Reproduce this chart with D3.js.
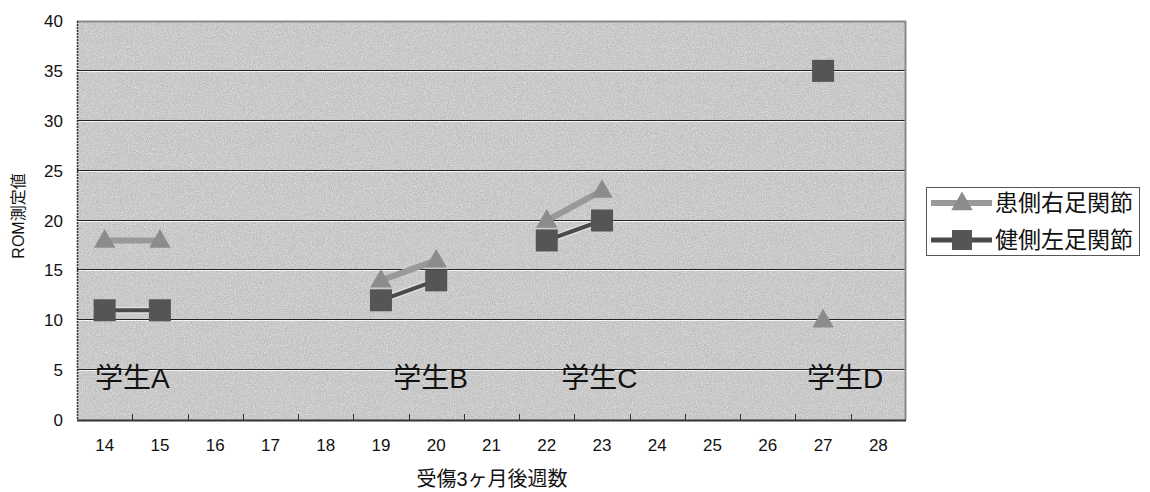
<!DOCTYPE html>
<html><head><meta charset="utf-8">
<script src="https://cdn.jsdelivr.net/npm/d3@7"></script>
<style>
html,body{margin:0;padding:0;background:#fff;}
text{font-family:"Liberation Sans","Noto Sans CJK JP",Arial,sans-serif;fill:#111;}
</style></head>
<body>
<svg id="chart" width="1150" height="492"></svg>
<script>
const categories = ["14","15","16","17","18","19","20","21","22","23","24","25","26","27","28"];
const seriesNames = ["患側右足関節","健側左足関節"];
const affectedRight = [18,18,null,null,null,14,16,null,20,23,null,null,null,10,null];
const healthyLeft   = [11,11,null,null,null,12,14,null,18,20,null,null,null,35,null];
const yTicks = [0,5,10,15,20,25,30,35,40];
const studentLabels = ["学生A","学生B","学生C","学生D"];
const studentLabelX = [14.5,19.9,22.95,27.4];
const studentLabelY = [3.2,3.2,3.2,3.2];
const yTitle = "ROM測定値";
const xTitle = "受傷3ヶ月後週数";

const svg = d3.select("#chart");
const L=77,R=906,T=21,B=420;
const x = d3.scaleBand().domain(categories).range([L,R]).padding(0);
const y = d3.scaleLinear().domain([0,40]).range([B,T]);
const bw = x.bandwidth();
const cx = c => x(c)+bw/2;
const fx = v => x(categories[0]) + (v - (+categories[0]))*bw + bw/2;

const defs = svg.append("defs");
const f = defs.append("filter").attr("id","noise").attr("x",0).attr("y",0).attr("width","100%").attr("height","100%");
f.append("feTurbulence").attr("type","fractalNoise").attr("baseFrequency",0.95).attr("numOctaves",2).attr("seed",3).attr("result","t");
f.append("feColorMatrix").attr("in","t").attr("type","matrix")
 .attr("values","0 0 0 0 1  0 0 0 0 1  0 0 0 0 1  -1.8 0 0 0 1.1");
const f2 = defs.append("filter").attr("id","noise2").attr("x",0).attr("y",0).attr("width","100%").attr("height","100%");
f2.append("feTurbulence").attr("type","fractalNoise").attr("baseFrequency",0.9).attr("numOctaves",2).attr("seed",11).attr("result","t");
f2.append("feColorMatrix").attr("in","t").attr("type","matrix")
 .attr("values","0 0 0 0 1  0 0 0 0 1  0 0 0 0 1  1.8 0 0 0 -0.7");

// plot background
svg.append("rect").attr("x",L).attr("y",T).attr("width",R-L).attr("height",B-T).attr("fill","#bdbdbd");
svg.append("rect").attr("x",L).attr("y",T).attr("width",R-L).attr("height",B-T).attr("fill","#000").attr("filter","url(#noise)").attr("opacity",0.4);
svg.append("rect").attr("x",L).attr("y",T).attr("width",R-L).attr("height",B-T).attr("fill","#fff").attr("filter","url(#noise2)").attr("opacity",0.5);

// gridlines (etched)
const grid = svg.append("g");
yTicks.filter(t=>t>0&&t<40).forEach(t=>{
  grid.append("line").attr("x1",L).attr("x2",R).attr("y1",Math.round(y(t))-0.5).attr("y2",Math.round(y(t))-0.5).attr("stroke","#222").attr("stroke-width",1);
  grid.append("line").attr("x1",L).attr("x2",R).attr("y1",Math.round(y(t))+0.5).attr("y2",Math.round(y(t))+0.5).attr("stroke","#f4f4f4").attr("stroke-width",1);
});
// border
svg.append("line").attr("x1",L).attr("x2",R).attr("y1",T+0.5).attr("y2",T+0.5).attr("stroke","#8a8a8a").attr("stroke-width",2);
svg.append("line").attr("x1",R-0.5).attr("x2",R-0.5).attr("y1",T).attr("y2",B).attr("stroke","#8a8a8a").attr("stroke-width",2);
svg.append("line").attr("x1",L+0.5).attr("x2",L+0.5).attr("y1",T).attr("y2",B).attr("stroke","#333").attr("stroke-width",1.5).attr("stroke-dasharray","2,1");
svg.append("line").attr("x1",L).attr("x2",R).attr("y1",B+0.5).attr("y2",B+0.5).attr("stroke","#333").attr("stroke-width",2);

// x axis ticks at band boundaries, pointing up
const tickG = svg.append("g");
categories.slice(1).forEach(c=>{
  tickG.append("line").attr("x1",Math.round(x(c))+0.5).attr("x2",Math.round(x(c))+0.5).attr("y1",B).attr("y2",B-6).attr("stroke","#333").attr("stroke-width",1);
});
svg.append("g").selectAll("text").data(categories).join("text")
  .attr("x",d=>cx(d)).attr("y",451).attr("text-anchor","middle").attr("font-size",17).text(d=>d);
svg.append("g").selectAll("text").data(yTicks).join("text")
  .attr("x",63).attr("y",d=>y(d)+6).attr("text-anchor","end").attr("font-size",17).text(d=>d);

// axis titles
svg.append("text").attr("transform","translate(24,216) rotate(-90)").attr("text-anchor","middle").attr("font-size",16).text(yTitle);
svg.append("text").attr("x",492).attr("y",486).attr("text-anchor","middle").attr("font-size",20).text(xTitle);

// student labels
svg.append("g").selectAll("text").data(studentLabels).join("text")
  .attr("x",(d,i)=>fx(studentLabelX[i])).attr("y",(d,i)=>y(studentLabelY[i]))
  .attr("text-anchor","middle").attr("font-size",28).text(d=>d);

// lines
const pts = arr => arr.map((v,i)=>({c:categories[i],v}));
const line = d3.line().defined(d=>d.v!==null).x(d=>cx(d.c)).y(d=>y(d.v));
svg.append("path").attr("d",line(pts(affectedRight))).attr("fill","none").attr("stroke","#999").attr("stroke-width",6);
svg.append("path").attr("d",line(pts(healthyLeft))).attr("fill","none").attr("stroke","#ddd").attr("stroke-width",7);
svg.append("path").attr("d",line(pts(healthyLeft))).attr("fill","none").attr("stroke","#4a4a4a").attr("stroke-width",4);

const tri = d3.symbol().type(d3.symbolTriangle).size(200);
svg.append("g").selectAll("path").data(pts(affectedRight).filter(d=>d.v!==null)).join("path")
  .attr("transform",d=>`translate(${cx(d.c)},${y(d.v)+1})`).attr("d",tri()).attr("fill","#8c8c8c");
svg.append("g").selectAll("rect").data(pts(healthyLeft).filter(d=>d.v!==null)).join("rect")
  .attr("x",d=>cx(d.c)-11).attr("y",d=>y(d.v)-11).attr("width",22).attr("height",22).attr("fill","#555");

// legend
const lg = svg.append("g");
lg.append("rect").attr("x",926.5).attr("y",187.5).attr("width",213).attr("height",68).attr("fill","#fff").attr("stroke","#555").attr("stroke-width",1);
const rows=[203,240];
lg.append("line").attr("x1",931).attr("x2",992).attr("y1",rows[0]).attr("y2",rows[0]).attr("stroke","#999").attr("stroke-width",6);
lg.append("path").attr("transform",`translate(962,${rows[0]+1})`).attr("d",tri()).attr("fill","#8c8c8c");
lg.append("line").attr("x1",931).attr("x2",992).attr("y1",rows[1]).attr("y2",rows[1]).attr("stroke","#4a4a4a").attr("stroke-width",5);
lg.append("rect").attr("x",952).attr("y",rows[1]-10).attr("width",20).attr("height",20).attr("fill","#555");
seriesNames.forEach((n,i)=>lg.append("text").attr("x",995).attr("y",rows[i]+8).attr("font-size",23).text(n));
</script>
</body></html>
